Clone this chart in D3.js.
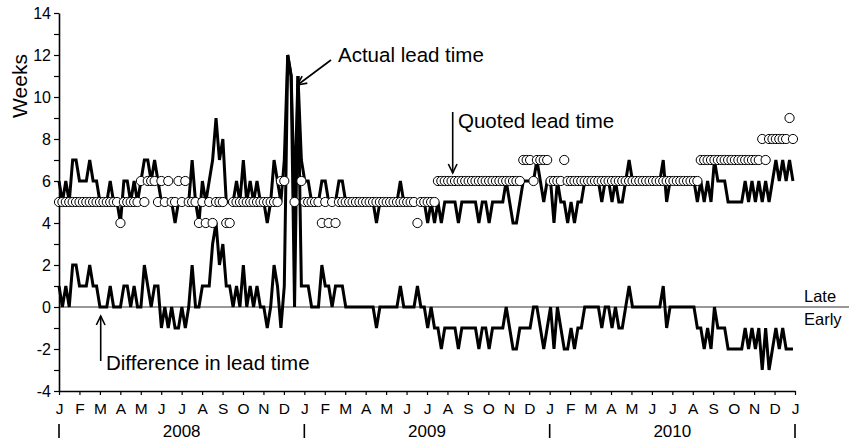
<!DOCTYPE html>
<html><head><meta charset="utf-8">
<script src="https://cdn.jsdelivr.net/npm/d3@7"></script>
<style>
body{margin:0;background:#fff}
svg{display:block}
text{font-family:"Liberation Sans",Arial,sans-serif;fill:#000}
</style>
</head><body>
<svg id="chart" width="849" height="440"></svg>
<script>
// ---- data (one value per order sample) ----
const monthLabels = ["J","F","M","A","M","J","J","A","S","O","N","D",
                     "J","F","M","A","M","J","J","A","S","O","N","D",
                     "J","F","M","A","M","J","J","A","S","O","N","D","J"];
const yearLabels = ["2008","2009","2010"];
const yTickValues = [-4,-2,0,2,4,6,8,10,12,14];

const actual = [
 6,5,6,5,7,7,6,6,6,7,
 6,6,5,5,5,6,5,5,4,6,
 6,5,6,5,6,7,7,6,7,6,
 5,5,5,5,4,5,5,5,5,7,
 5,4,6,5,6,7,9,7,8,5,
 5,5,6,5,7,5,6,5,6,5,
 5,4,5,7,6,5,7,12,11,5,
 11,7,6,6,5,5,5,6,6,5,
 5,5,6,6,5,5,5,5,5,5,
 5,5,5,4,5,5,5,5,5,5,
 6,5,5,5,5,5,5,5,4,5,
 4,5,4,5,5,5,5,4,5,5,
 5,5,5,4,5,5,4,5,5,5,
 5,6,5,4,4,5,6,6,6,6,
 7,6,5,6,6,4,6,5,5,4,
 5,4,5,5,6,6,6,6,6,5,
 6,6,5,6,5,5,6,7,6,6,
 6,6,6,6,6,6,6,7,5,6,
 6,6,6,6,6,6,6,5,6,5,
 6,5,7,6,6,6,5,5,5,5,
 5,6,5,6,5,6,5,6,5,6,
 7,6,7,6,7,6
];
const quoted = [
 5,5,5,5,5,5,5,5,5,5,
 5,5,5,5,5,5,5,5,4,5,
 5,5,5,5,6,5,6,6,6,5,
 6,5,6,5,5,6,5,6,5,5,
 5,4,5,4,5,4,5,5,5,4,
 4,5,5,5,5,5,5,5,5,5,
 5,5,5,5,5,6,6,null,null,5,
 null,6,5,5,5,5,5,4,5,4,
 5,4,5,5,5,5,5,5,5,5,
 5,5,5,5,5,5,5,5,5,5,
 5,5,5,5,5,4,5,5,5,5,
 5,6,6,6,6,6,6,6,6,6,
 6,6,6,6,6,6,6,6,6,6,
 6,6,6,6,6,6,7,7,7,6,
 7,7,7,7,6,6,6,6,7,6,
 6,6,6,6,6,6,6,6,6,6,
 6,6,6,6,6,6,6,6,6,6,
 6,6,6,6,6,6,6,6,6,6,
 6,6,6,6,6,6,6,6,7,7,
 7,7,7,7,7,7,7,7,7,7,
 7,7,7,7,7,7,8,7,8,8,
 8,8,8,8,9,8
];
const difference = [
 1,0,1,0,2,2,1,1,1,2,
 1,1,0,0,0,1,0,0,0,1,
 1,0,1,0,0,2,1,0,1,1,
 -1,0,-1,0,-1,-1,0,-1,0,2,
 0,0,1,1,1,3,4,2,3,1,
 1,0,1,0,2,0,1,0,1,0,
 0,-1,0,2,1,-1,1,12,11,0,
 11,1,1,1,0,0,0,2,1,1,
 0,1,1,1,0,0,0,0,0,0,
 0,0,0,-1,0,0,0,0,0,0,
 1,0,0,0,0,1,0,0,-1,0,
 -1,-1,-2,-1,-1,-1,-1,-2,-1,-1,
 -1,-1,-1,-2,-1,-1,-2,-1,-1,-1,
 -1,0,-1,-2,-2,-1,-1,-1,-1,0,
 0,-1,-2,-1,0,-2,0,-1,-2,-2,
 -1,-2,-1,-1,0,0,0,0,0,-1,
 0,0,-1,0,-1,-1,0,1,0,0,
 0,0,0,0,0,0,0,1,-1,0,
 0,0,0,0,0,0,0,-1,-1,-2,
 -1,-2,0,-1,-1,-1,-2,-2,-2,-2,
 -2,-1,-2,-1,-2,-1,-3,-1,-3,-2,
 -1,-2,-1,-2,-2,-2
];

// ---- drawing ----
const svg = d3.select("#chart");
const plotLeft = 59, plotRight = 795, plotTop = 13, plotBottom = 391;
const xm = d3.scaleLinear().domain([0, 36]).range([plotLeft, plotRight]);
const xi = d3.scaleLinear().domain([0, actual.length - 1]).range([xm(0), xm(35.9)]);
const y = d3.scaleLinear().domain([-4, 14]).range([plotBottom, plotTop]);

// zero reference line
svg.append("line")
  .attr("x1", plotLeft).attr("x2", 849)
  .attr("y1", y(0)).attr("y2", y(0))
  .attr("stroke", "#333").attr("stroke-width", 1);

// y axis
const yAxis = d3.axisLeft(y)
  .tickValues(d3.range(-4, 15, 1))
  .tickSize(5).tickSizeOuter(0).tickPadding(3)
  .tickFormat(d => yTickValues.includes(d) ? String(d) : "");
const gy = svg.append("g").attr("transform", `translate(${plotLeft},0)`).call(yAxis);
gy.select(".domain").attr("stroke", "#000").attr("stroke-width", 1.6);
gy.selectAll(".tick line").attr("stroke", "#000").attr("stroke-width", 1.2);
gy.selectAll(".tick text").style("font-size", "16px").attr("font-family", null);

// x axis
const xAxis = d3.axisBottom(xm)
  .tickValues(d3.range(0, 37))
  .tickSize(4).tickSizeOuter(0).tickPadding(8)
  .tickFormat((d, i) => monthLabels[i]);
const gx = svg.append("g").attr("transform", `translate(0,${plotBottom})`).call(xAxis);
gx.select(".domain").attr("stroke", "#000").attr("stroke-width", 1.6);
gx.selectAll(".tick line").attr("stroke", "#000").attr("stroke-width", 1.2);
gx.selectAll(".tick text").style("font-size", "15.5px").attr("font-family", null);

// year separators and labels
[0, 12, 24, 36].forEach(m => {
  svg.append("line").attr("x1", xm(m)).attr("x2", xm(m))
    .attr("y1", 424).attr("y2", 438).attr("stroke", "#000").attr("stroke-width", 1.6);
});
yearLabels.forEach((t, k) => {
  svg.append("text").attr("x", xm(12 * k + 6)).attr("y", 437)
    .attr("text-anchor", "middle").style("font-size", "17px").text(t);
});

// y title
svg.append("text")
  .attr("transform", `translate(27,86) rotate(-90)`)
  .attr("text-anchor", "middle").style("font-size", "21px").text("Weeks");

// lines
const line = d3.line().x((d, i) => xi(i)).y(d => y(d));
svg.append("path").datum(difference).attr("d", line)
  .attr("fill", "none").attr("stroke", "#000").attr("stroke-width", 3);
svg.append("path").datum(actual).attr("d", line)
  .attr("fill", "none").attr("stroke", "#000").attr("stroke-width", 3);

// quoted circles
svg.append("g").selectAll("circle")
  .data(quoted.map((q, i) => ({q, i})).filter(d => d.q !== null))
  .join("circle")
  .attr("cx", d => xi(d.i)).attr("cy", d => y(d.q)).attr("r", 4.6)
  .attr("fill", "#fff").attr("stroke", "#000").attr("stroke-width", 1);

// Late / Early
svg.append("text").attr("x", 804).attr("y", 302).style("font-size", "16.5px").text("Late");
svg.append("text").attr("x", 804).attr("y", 325).style("font-size", "16.5px").text("Early");

// annotations with arrows
function arrow(x1, y1, x2, y2) {
  svg.append("line").attr("x1", x1).attr("y1", y1).attr("x2", x2).attr("y2", y2)
    .attr("stroke", "#000").attr("stroke-width", 1.6);
  const a = Math.atan2(y2 - y1, x2 - x1), L = 10, w = 0.45;
  const p1 = [x2 - L * Math.cos(a - w), y2 - L * Math.sin(a - w)];
  const p2 = [x2 - L * Math.cos(a + w), y2 - L * Math.sin(a + w)];
  svg.append("path").attr("d", `M${p1}L${x2},${y2}L${p2}`)
    .attr("fill", "none").attr("stroke", "#000").attr("stroke-width", 1.6);
}
svg.append("text").attr("x", 338).attr("y", 62).style("font-size", "20.5px").text("Actual lead time");
arrow(331, 60, 297.5, 85);
svg.append("text").attr("x", 458).attr("y", 128).style("font-size", "20.5px").text("Quoted lead time");
arrow(452.7, 112, 452.7, 173);
svg.append("text").attr("x", 106).attr("y", 370).style("font-size", "20.5px").text("Difference in lead time");
arrow(100.7, 361, 100.7, 316);
</script>
</body></html>
